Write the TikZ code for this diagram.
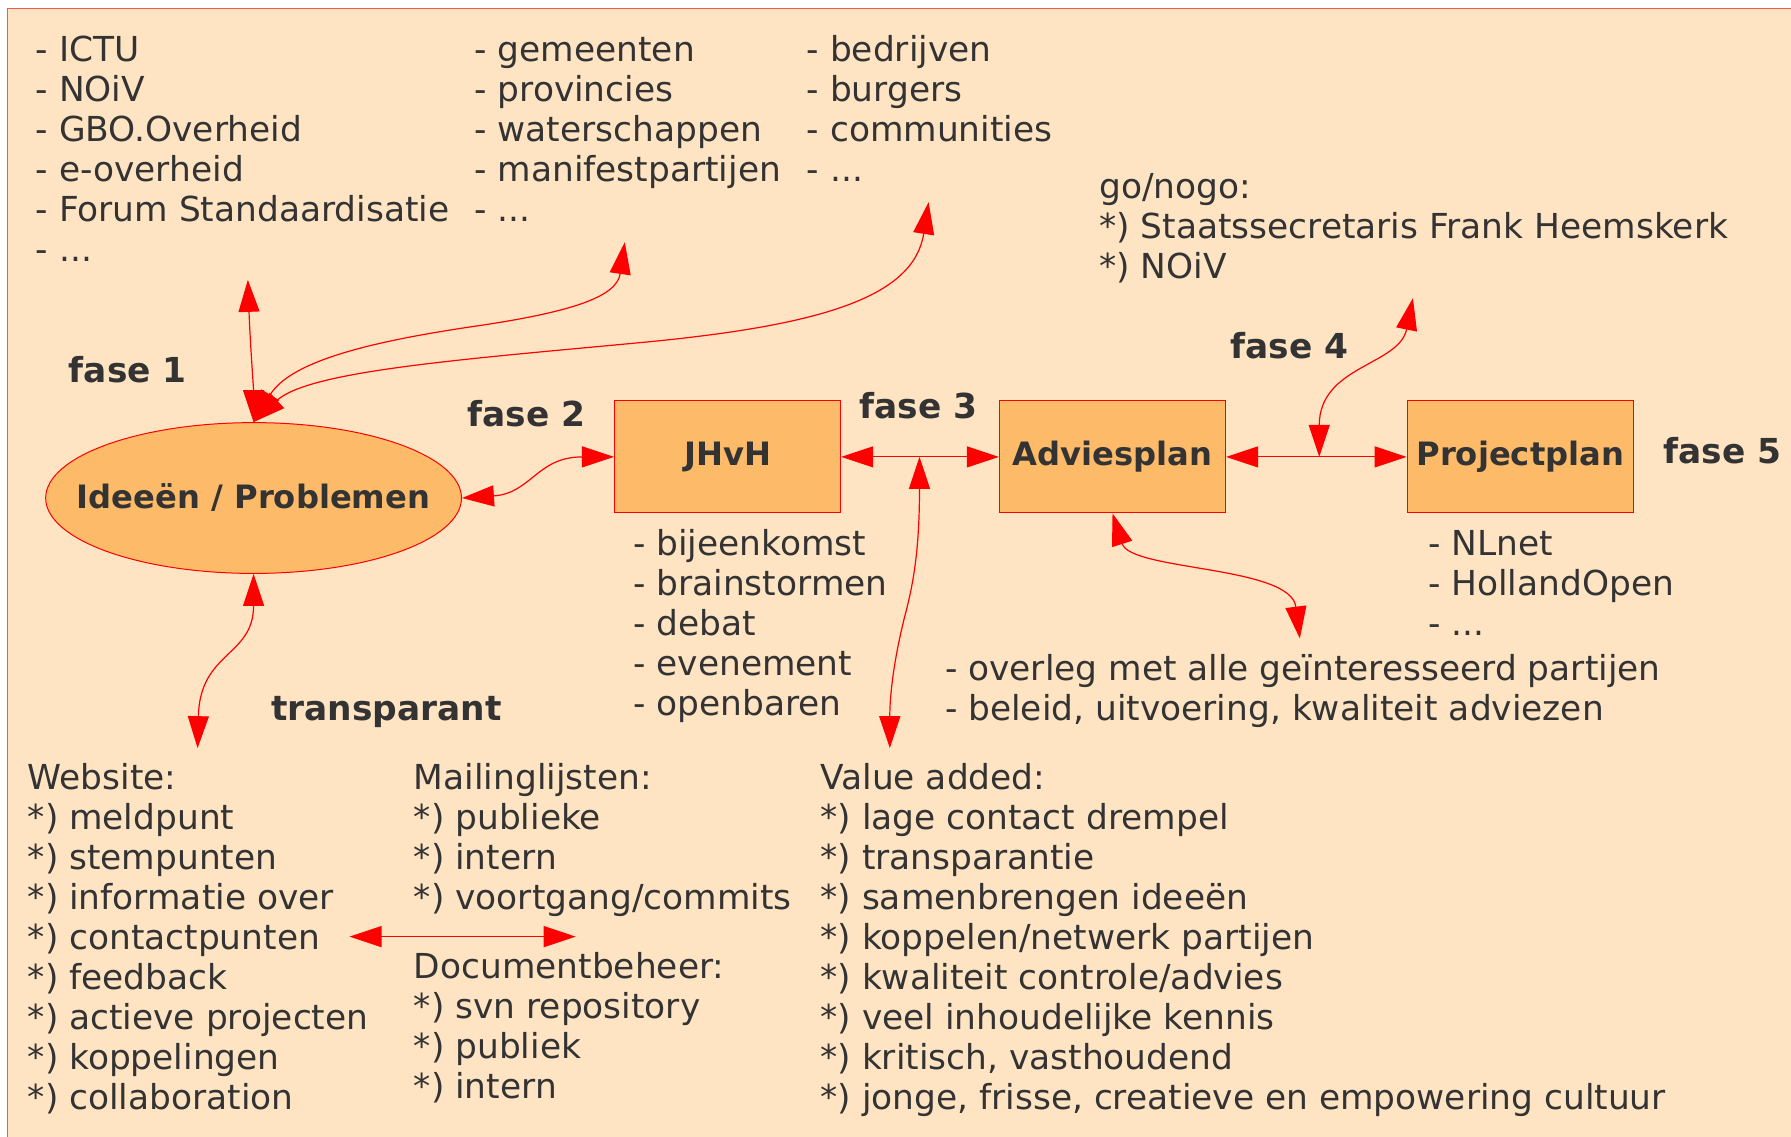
\documentclass[tikz,border=0pt]{standalone}
\usepackage{fontspec}
\setmainfont{DejaVu Sans}
\usetikzlibrary{arrows.meta,shapes.geometric}
\definecolor{bgc}{RGB}{255,228,196}
\definecolor{nodefill}{RGB}{253,186,104}
\definecolor{txt}{RGB}{51,51,51}
\definecolor{framec}{RGB}{240,90,80}
\begin{document}
\begin{tikzpicture}[x=0.5711pt,y=-0.5711pt,
  every node/.style={text=txt, font=\fontsize{17.2}{20}\selectfont},
  lst/.style={align=left, anchor=base west, inner sep=0pt},
  fase/.style={font=\fontsize{17.2}{20}\selectfont\bfseries, anchor=base west, inner sep=0pt},
  box/.style={draw=red, fill=nodefill, line width=0.5pt, minimum width=113.1pt, minimum height=56pt, inner sep=0pt, font=\fontsize{16.1}{19}\selectfont\bfseries},
  conn/.style={draw=red, line width=0.6pt, {Triangle[length=16pt,width=10.5pt]}-{Triangle[length=16pt,width=10.5pt]}}]
\useasboundingbox (0,0) rectangle (1568,995);
\fill[bgc] (7,7) rectangle (1570,997);
\draw[framec, line width=0.5pt] (7,997) -- (7,7) -- (1570,7);

% top lists (anchored at the baseline of their last line)
\node[lst] (tl) at (31,229) {- ICTU\\- NOiV\\- GBO.Overheid\\- e-overheid\\- Forum Standaardisatie\\- ...};
\node[lst] (gov) at (415,194) {- gemeenten\\- provincies\\- waterschappen\\- manifestpartijen\\- ...};
\node[lst] (soc) at (706,159) {- bedrijven\\- burgers\\- communities\\- ...};
\node[lst] (gonogo) at (962,244) {go/nogo:\\*) Staatssecretaris Frank Heemskerk\\*) NOiV};

% fase labels
\node[fase] (f1) at (60,335) {fase 1};
\node[fase] (f2) at (409,373) {fase 2};
\node[fase] (f3) at (752,366) {fase 3};
\node[fase] (f4) at (1077,314) {fase 4};
\node[fase] (f5) at (1456,406) {fase 5};
\node[fase] (transp) at (237,631) {transparant};

% main nodes
\node[box, ellipse, minimum width=207.9pt, minimum height=75.4pt] (ideas) at (222,436) {\makebox[0pt]{Ideeën / Problemen}};
\node[box] (jhvh) at (637,400) {JHvH};
\node[box] (advies) at (974,400) {Adviesplan};
\node[box] (proj) at (1331,400) {Projectplan};

% lower lists
\node[lst] (jlist) at (554,626) {- bijeenkomst\\- brainstormen\\- debat\\- evenement\\- openbaren};
\node[lst] (plist) at (1250,556) {- NLnet\\- HollandOpen\\- ...};
\node[lst] (olist) at (827,631) {- overleg met alle geïnteresseerd partijen\\- beleid, uitvoering, kwaliteit adviezen};
\node[lst] (web) at (24,971) {Website:\\*) meldpunt\\*) stempunten\\*) informatie over\\*) contactpunten\\*) feedback\\*) actieve projecten\\*) koppelingen\\*) collaboration};
\node[lst] (mail) at (362,796) {Mailinglijsten:\\*) publieke\\*) intern\\*) voortgang/commits};
\node[lst] (doc) at (362,962) {Documentbeheer:\\*) svn repository\\*) publiek\\*) intern};
\node[lst] (value) at (718,971) {Value added:\\*) lage contact drempel\\*) transparantie\\*) samenbrengen ideeën\\*) koppelen/netwerk partijen\\*) kwaliteit controle/advies\\*) veel inhoudelijke kennis\\*) kritisch, vasthoudend\\*) jonge, frisse, creatieve en empowering cultuur};

% connector end points
\coordinate (tlA) at (217,245);
\coordinate (govA) at (547,212);
\coordinate (socA) at (813,177);
\coordinate (goA) at (1237,261);
\coordinate (ovA) at (1138,559);
\coordinate (webA) at (173,655);
\coordinate (valA) at (779,655);
\coordinate (m34) at (805,400);
\coordinate (m45) at (1155,400);
\coordinate (wl) at (306,820);
\coordinate (wr) at (504,820);

% connectors
\draw[conn] (tlA) .. controls (219,300) and (222,340) .. (ideas.north);
\draw[conn] (govA) .. controls (540,260) and (500,273) .. (420,285) .. controls (330,298) and (255,315) .. (ideas.north);
\draw[conn] (socA) .. controls (800,260) and (720,285) .. (560,300) .. controls (400,315) and (270,325) .. (ideas.north);
\draw[conn] (ideas.east) .. controls (465,432) and (470,400) .. (jhvh.west);
\draw[conn] (jhvh.east) -- (advies.west);
\draw[conn] (advies.east) -- (proj.west);
\draw[conn] (m34) .. controls (805,480) and (800,510) .. (792,540) .. controls (782,580) and (779,610) .. (valA);
\draw[conn] (m45) .. controls (1155,320) and (1225,320) .. (goA);
\draw[conn] (advies.south) .. controls (990,500) and (1130,495) .. (ovA);
\draw[conn] (ideas.south) .. controls (222,575) and (175,570) .. (webA);
\draw[conn] (wl) -- (wr);
\end{tikzpicture}
\end{document}
